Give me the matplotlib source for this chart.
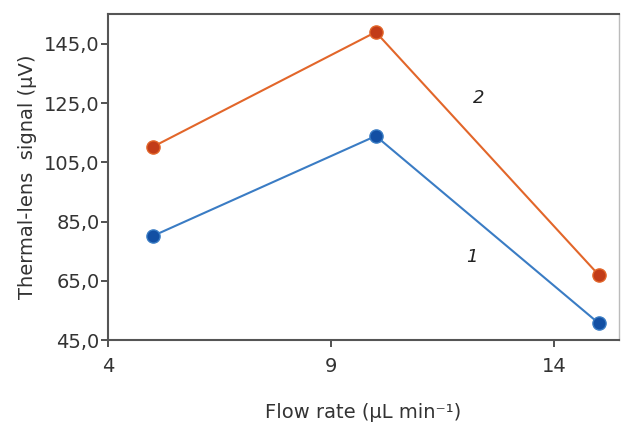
import matplotlib
matplotlib.use("Agg")
import matplotlib.pyplot as plt
from matplotlib.ticker import FuncFormatter

flow_rate = [5, 10, 15]
signal_1 = [80.1, 113.9, 50.6]
signal_2 = [110.2, 149.0, 66.9]
x_ticks = [4, 9, 14]
y_ticks = [45, 65, 85, 105, 125, 145]

plt.rcParams['font.family'] = ['DejaVu Sans']

fig = plt.figure(figsize=(6.21, 4.24), dpi=100)
ax = fig.add_axes([108/621, 84/424, 511/621, 326/424])

blue = '#3a7cc4'
orange = '#e2662a'
ax.plot(flow_rate, signal_1, color=blue, lw=1.5, zorder=2)
ax.plot(flow_rate, signal_1, 'o', color='#124fa3', ms=9.5, mec='#3a7cc4', mew=1, zorder=3)
ax.plot(flow_rate, signal_2, color=orange, lw=1.5, zorder=2)
ax.plot(flow_rate, signal_2, 'o', color='#c23c18', ms=9.5, mec='#e2662a', mew=1, zorder=3)

ax.text(12.3, 126.8, '2', fontsize=13, style='italic', ha='center', va='center', color='#222222')
ax.text(12.16, 73, '1', fontsize=13, style='italic', ha='center', va='center', color='#222222')

ax.set_xlim(4, 15.45)
ax.set_ylim(45, 155.1)
ax.set_xticks(x_ticks)
ax.set_yticks(y_ticks)
ax.yaxis.set_major_formatter(FuncFormatter(lambda v, p: f"{v:.1f}".replace('.', ',')))
ax.tick_params(direction='out', length=5, width=1.2, labelsize=14, colors='#333333')
ax.tick_params(axis='y', pad=1)
ax.tick_params(axis='x', pad=7)

for side in ['left', 'bottom', 'top']:
    ax.spines[side].set_color('#555555')
    ax.spines[side].set_linewidth(1.5)
ax.spines['right'].set_color('#bbbbbb')
ax.spines['right'].set_linewidth(1.0)

ax.set_xlabel('Flow rate (µL min⁻¹)', fontsize=14, color='#333333', labelpad=20)
ax.set_ylabel('Thermal-lens  signal (µV)', fontsize=14, color='#333333', labelpad=5)

fig.savefig('out.png', dpi=100)
